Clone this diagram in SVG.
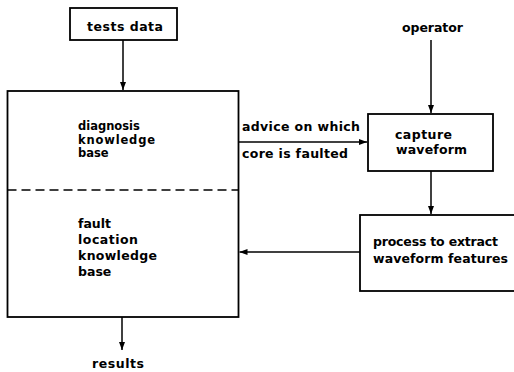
<svg xmlns="http://www.w3.org/2000/svg" width="514" height="372" viewBox="0 0 514 372">
<style>
.box{fill:none;stroke:#000;stroke-width:1.8}
.ln{fill:none;stroke:#000;stroke-width:1.5}
text{font-family:"DejaVu Sans","Liberation Sans",sans-serif;font-weight:bold;font-size:12.5px;fill:#000}
.sm{font-size:11.5px}
</style>
<defs>
<marker id="ah" viewBox="0 0 8 6" refX="8" refY="3" markerWidth="8" markerHeight="6" markerUnits="userSpaceOnUse" orient="auto">
<path d="M0,0 L8,3 L0,6 Z" fill="#000"/>
</marker>
</defs>
<rect width="514" height="372" fill="#fff"/>
<g id="tests-data">
<rect class="box" x="70" y="8" width="107" height="32"/>
<text x="87" y="31" textLength="76" lengthAdjust="spacing">tests data</text>
</g>
<g id="knowledge-base">
<rect class="box" x="7.5" y="91" width="231" height="226"/>
<line x1="7.5" y1="190" x2="238.5" y2="190" stroke="#000" stroke-width="1.5" stroke-dasharray="9,5"/>
<text class="sm" x="78" y="130">diagnosis</text>
<text class="sm" x="78" y="143.5" textLength="77" lengthAdjust="spacing">knowledge</text>
<text class="sm" x="78" y="157">base</text>
<text x="78" y="228">fault</text>
<text x="78" y="244" textLength="60" lengthAdjust="spacing">location</text>
<text x="78" y="260" textLength="79" lengthAdjust="spacing">knowledge</text>
<text x="78" y="276">base</text>
</g>
<g id="operator">
<text x="402" y="32" textLength="61" lengthAdjust="spacing">operator</text>
</g>
<g id="capture-waveform">
<rect class="box" x="368" y="114" width="125" height="57"/>
<text x="395" y="139" textLength="57" lengthAdjust="spacing">capture</text>
<text x="396" y="154" textLength="71" lengthAdjust="spacing">waveform</text>
</g>
<g id="process">
<rect class="box" x="360" y="215" width="160" height="76"/>
<text x="373" y="246" textLength="125" lengthAdjust="spacing">process to extract</text>
<text x="373" y="263" textLength="135" lengthAdjust="spacing">waveform features</text>
</g>
<g id="results">
<text x="92" y="368" textLength="52" lengthAdjust="spacing">results</text>
</g>
<g id="connectors">
<line class="ln" x1="123" y1="40" x2="123" y2="90" marker-end="url(#ah)"/>
<line class="ln" x1="431" y1="40" x2="431" y2="113" marker-end="url(#ah)"/>
<line class="ln" x1="238.5" y1="142" x2="367" y2="142" marker-end="url(#ah)"/>
<line class="ln" x1="431" y1="171" x2="431" y2="214" marker-end="url(#ah)"/>
<line class="ln" x1="360" y1="252" x2="239.5" y2="252" marker-end="url(#ah)"/>
<line class="ln" x1="122" y1="317" x2="122" y2="350" marker-end="url(#ah)"/>
<text x="242" y="131" textLength="118" lengthAdjust="spacing">advice on which</text>
<text x="242" y="158" textLength="106" lengthAdjust="spacing">core is faulted</text>
</g>
</svg>
